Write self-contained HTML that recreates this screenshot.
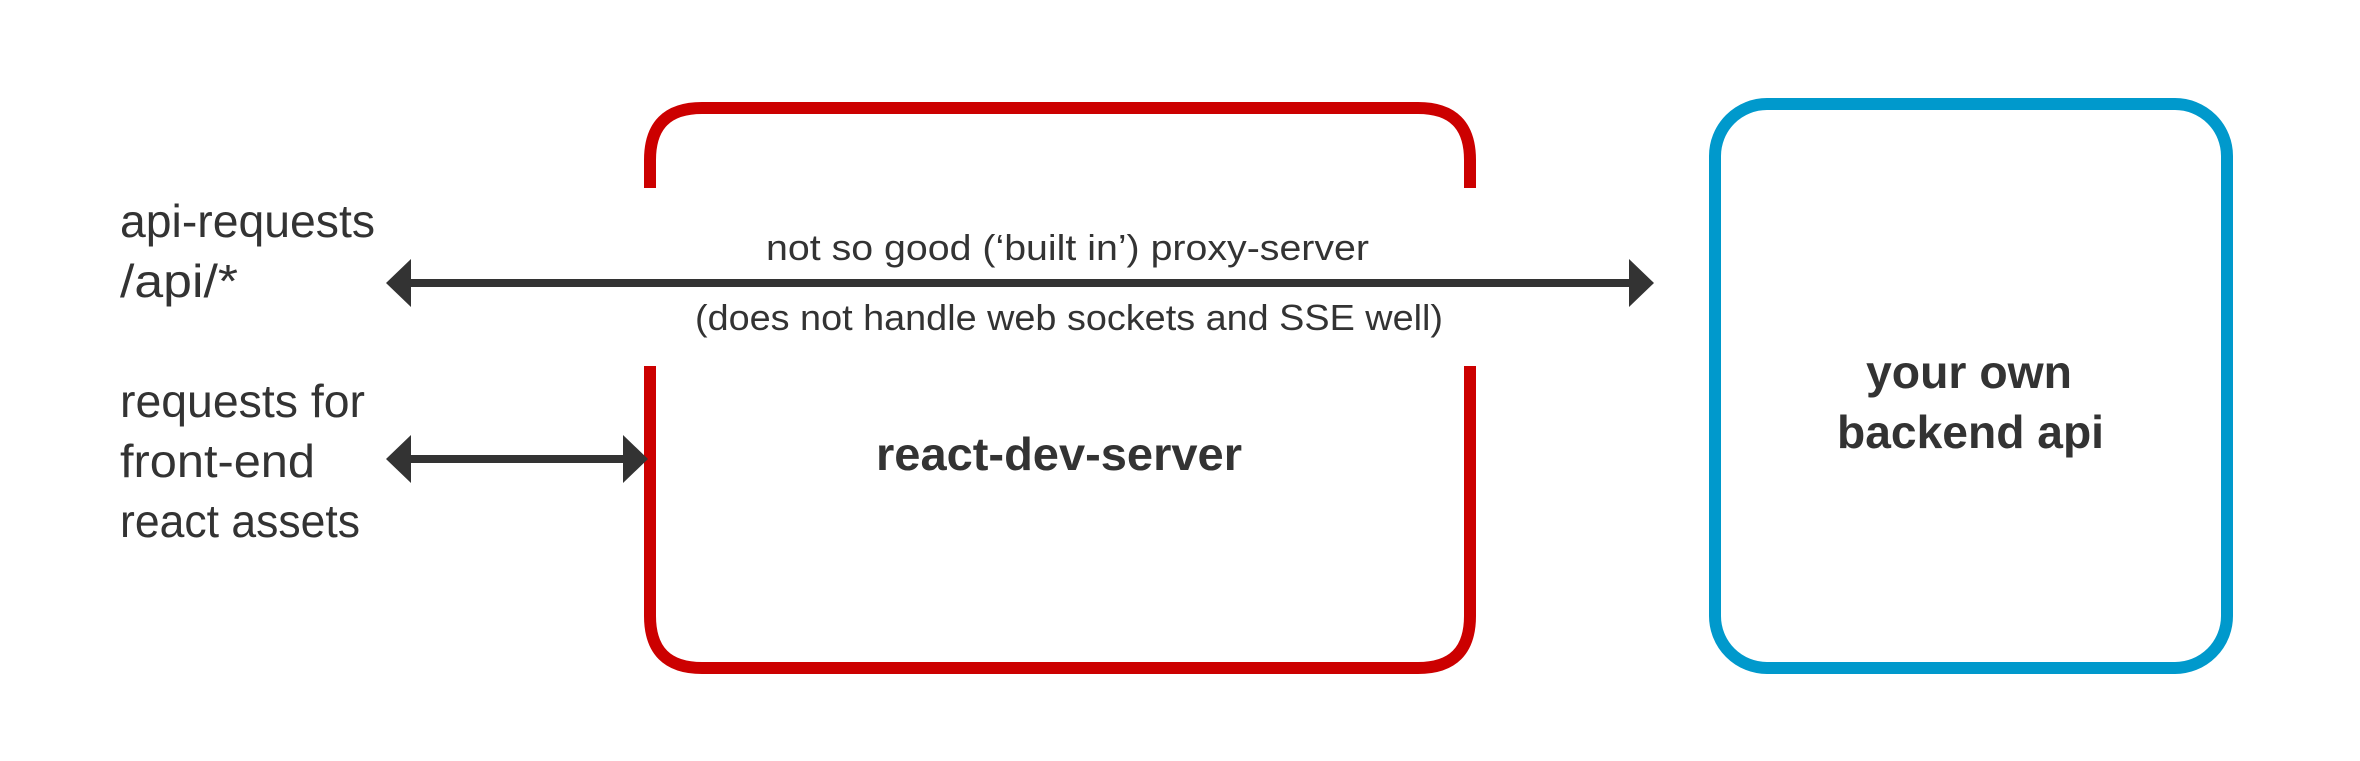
<!DOCTYPE html>
<html><head><meta charset="utf-8"><style>
html,body{margin:0;padding:0;background:#fff;}
svg{display:block}
text{font-family:"Liberation Sans",sans-serif;fill:#333;}
</style></head><body>
<svg width="2360" height="761" viewBox="0 0 2360 761" xmlns="http://www.w3.org/2000/svg">
<path d="M650,188 V160 Q650,108 702,108 H1418 Q1470,108 1470,160 V188" fill="none" stroke="#cc0000" stroke-width="12"/>
<path d="M650,366 V616 Q650,668 702,668 H1418 Q1470,668 1470,616 V366" fill="none" stroke="#cc0000" stroke-width="12"/>
<rect x="1715" y="104" width="512" height="564" rx="52" ry="52" fill="none" stroke="#0099cc" stroke-width="12"/>
<line x1="405" y1="283" x2="1635" y2="283" stroke="#333" stroke-width="8"/>
<polygon points="386,283 411,259 411,307" fill="#333"/>
<polygon points="1654,283 1629,259 1629,307" fill="#333"/>
<line x1="405" y1="459" x2="630" y2="459" stroke="#333" stroke-width="8"/>
<polygon points="386,459 411,435 411,483" fill="#333"/>
<polygon points="648,459 623,435 623,483" fill="#333"/>
<text x="120" y="237" font-size="46" textLength="255" lengthAdjust="spacingAndGlyphs">api-requests</text>
<text x="120" y="297" font-size="46" textLength="118" lengthAdjust="spacingAndGlyphs">/api/*</text>
<text x="120" y="417" font-size="46" textLength="245" lengthAdjust="spacingAndGlyphs">requests for</text>
<text x="120" y="477" font-size="46" textLength="195" lengthAdjust="spacingAndGlyphs">front-end</text>
<text x="120" y="537" font-size="46" textLength="240" lengthAdjust="spacingAndGlyphs">react assets</text>
<text x="766" y="260" font-size="36" textLength="603" lengthAdjust="spacingAndGlyphs">not so good (‘built in’) proxy-server</text>
<text x="695" y="330" font-size="36" textLength="748" lengthAdjust="spacingAndGlyphs">(does not handle web sockets and SSE well)</text>
<text x="876" y="470" font-size="46" font-weight="bold" textLength="366" lengthAdjust="spacingAndGlyphs">react-dev-server</text>
<text x="1866" y="388" font-size="46" font-weight="bold" textLength="206" lengthAdjust="spacingAndGlyphs">your own</text>
<text x="1837" y="448" font-size="46" font-weight="bold" textLength="267" lengthAdjust="spacingAndGlyphs">backend api</text>
</svg>
</body></html>
